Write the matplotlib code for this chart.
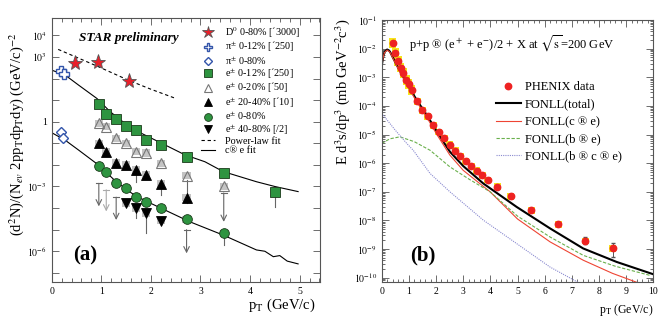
import numpy as np
import matplotlib
matplotlib.use("Agg")
import matplotlib.pyplot as plt
from matplotlib.patches import Rectangle
from matplotlib.lines import Line2D

plt.rcParams['font.family'] = ['Liberation Serif', 'DejaVu Serif']
plt.rcParams['mathtext.fontset'] = 'stix'

# ---------------- Panel (a) data ----------------
d0_pt = [0.47, 0.93, 1.56]
d0_y = [500, 560, 76]
plaw_pt = [0.13, 0.94, 1.54, 2.0, 2.5]
plaw_y = [2240, 355, 85, 32, 12]
pi12_pt = [0.19, 0.25]
pi12_y = [224, 155]
pi80_pt = [0.19, 0.23]
pi80_y = [0.35, 0.17]
e12_pt = [0.95, 1.1, 1.3, 1.5, 1.7, 1.9, 2.2, 2.72, 3.47, 4.51]
e12_y = [6.6, 2.2, 1.33, 0.65, 0.42, 0.14, 0.087, 0.024, 0.0041, 0.00054]
e20_pt = [0.95, 1.1, 1.3, 1.5, 1.7, 1.9, 2.2, 2.72, 3.47]
e20_y = [0.85, 0.59, 0.17, 0.10, 0.041, 0.035, 0.012, 0.0032, 0.0010]
e2040_pt = [0.95, 1.1, 1.3, 1.5, 1.7, 1.9, 2.2, 2.72]
e2040_y = [0.10, 0.041, 0.0126, 0.010, 0.0058, 0.0034, 0.0013, 0.00030]
e80_pt = [0.95, 1.1, 1.3, 1.5, 1.7, 1.9, 2.2, 2.72, 3.47]
e80_y = [0.0091, 0.0049, 0.0015, 0.00083, 0.00034, 0.0002, 9.8e-5, 3.0e-5, 6.8e-6]
e4080_pt = [1.5, 1.7, 1.9, 2.2]
e4080_y = [1.66e-4, 9.8e-5, 5.8e-5, 2.6e-5]
fitA_pt = [0.0, 0.27, 0.54, 0.91, 1.18, 1.6, 2.22, 2.69, 3.09, 3.46, 4.13, 4.5, 4.97]
fitA_y = [245, 145, 50, 12, 2.9, 0.5, 0.1, 0.029, 0.014, 0.0049, 0.00166, 0.001, 0.00058]
fitB_pt = [0.0, 0.27, 0.54, 0.94, 1.3, 1.7, 2.2, 2.79, 3.46, 4.13, 4.3, 4.47, 4.6, 4.75, 4.97]
fitB_y = [0.31, 0.14, 0.049, 0.01, 0.00166, 0.00035, 0.0001, 2.3e-5, 5.6e-6, 1.15e-6,
          1.0e-6, 5.6e-7, 6.3e-7, 3.5e-7, 2.6e-7]
# error bars (pt, low, high)
errs_a = [(4.51, 1.1e-4, 7.0e-4), (3.47, 2.0e-6, 9e-6), (2.72, 1.7e-4, 2.0e-3),
          (2.2, 4.0e-4, 1.3e-3), (1.7, 1.7e-3, 5.8e-3), (1.9, 6.8e-6, 8e-5),
          (1.7, 3.4e-5, 9.8e-5)]
# upper-limit arrows (pt, top, bottom, colour)
arrows_a = [(0.95, 1.4e-3, 1.2e-4, '#666666'), (1.1, 7e-4, 7e-5, '#aaaaaa'),
            (1.3, 3.2e-4, 2.8e-5, '#666666'), (2.72, 1.0e-5, 8e-7, '#666666'),
            (3.47, 5e-4, 2.3e-5, '#666666')]

# ---------------- Panel (b) data ----------------
ph_pt = [0.4, 0.5, 0.6, 0.7, 0.8, 0.9, 1.0, 1.1, 1.3, 1.5, 1.7, 1.9, 2.1, 2.3, 2.5, 2.7,
         2.9, 3.1, 3.3, 3.5, 3.7, 3.9, 4.25, 4.75, 5.5, 6.5, 7.5, 8.5]
ph_logy = [-1.81, -2.16, -2.42, -2.66, -2.85, -3.09, -3.24, -3.45, -3.84, -4.15, -4.37,
           -4.67, -4.91, -5.12, -5.35, -5.56, -5.75, -5.93, -6.10, -6.27, -6.42, -6.59,
           -6.83, -7.15, -7.64, -8.13, -8.72, -8.98]
tot_pt = [0.0, 0.05, 0.1, 0.2, 0.3, 0.55, 0.92, 1.29, 1.66, 2.03, 2.51, 3.0, 3.74, 4.97,
          6.2, 7.42, 8.65, 10.0]
tot_logy = [-2.6, -2.3, -2.12, -2.03, -2.1, -2.57, -3.21, -3.80, -4.32, -4.9, -5.6,
            -6.1, -6.71, -7.53, -8.28, -8.98, -9.45, -9.88]
c_pt = [0.0, 0.05, 0.1, 0.2, 0.3, 0.55, 0.92, 1.29, 1.66, 2.03, 2.51, 3.0, 3.99, 5.0,
        6.2, 7.42, 8.5, 9.5]
c_logy = [-2.62, -2.32, -2.14, -2.05, -2.12, -2.6, -3.25, -3.86, -4.40, -5.0, -5.72,
          -6.25, -7.0, -7.95, -8.75, -9.39, -9.85, -10.2]
b_pt = [0.0, 0.3, 0.67, 1.2, 1.78, 2.51, 3.2, 3.99, 5.0, 6.2, 7.42, 8.6, 9.88]
b_logy = [-5.31, -5.15, -5.08, -5.25, -5.55, -6.13, -6.55, -7.0, -7.85, -8.58, -9.22,
          -9.6, -9.92]
bc_pt = [0.0, 0.5, 0.92, 1.16, 1.78, 2.51, 3.74, 4.97, 6.2, 7.3]
bc_logy = [-4.26, -4.85, -5.31, -5.55, -6.36, -7.0, -7.99, -8.81, -9.63, -10.2]

fig = plt.figure(figsize=(6.64, 3.2), dpi=100)
axA = fig.add_axes([0.0779, 0.1197, 0.4039, 0.8231])
axB = fig.add_axes([0.5749, 0.1197, 0.4090, 0.8178])

frame_col = '#555555'
for ax in (axA, axB):
    for s in ax.spines.values():
        s.set_color(frame_col)
        s.set_linewidth(0.8)
    ax.tick_params(which='both', direction='in', top=True, right=True, colors=frame_col,
                   labelcolor='black', labelsize=7, width=0.6)

# ---------- Panel (a) ----------
ax = axA
ax.set_yscale('log')
ax.set_xlim(0, 5.41)
ax.set_ylim(10**-7.41, 10**4.79)
grey = '#c4c4c4'
def box(x, y, hw=0.085, hd=0.17):
    ax.add_patch(Rectangle((x - hw, y * 10**-hd), 2 * hw, y * (10**hd - 10**-hd),
                           facecolor=grey, edgecolor='none', zorder=1))
for xs, ys in [(e20_pt, e20_y), (e2040_pt, e2040_y), (e80_pt, e80_y), (e4080_pt, e4080_y)]:
    for x, y in zip(xs, ys):
        box(x, y)
for x, y in zip(e12_pt[1:3], e12_y[1:3]):
    box(x, y)
for x, lo, hi in errs_a:
    ax.plot([x, x], [lo, hi], color='#666666', lw=0.8, zorder=2)
for x, top, bot, col in arrows_a:
    ax.annotate('', xy=(x, bot), xytext=(x, top),
                arrowprops=dict(arrowstyle='->', color=col, lw=0.8, shrinkA=0, shrinkB=0),
                zorder=2)
    ax.plot([x - 0.06, x + 0.06], [top, top], color=col, lw=0.8, zorder=2)

ax.plot(plaw_pt, plaw_y, ls=(0, (3, 2.5)), color='black', lw=0.8, zorder=2)
ax.plot(fitA_pt, fitA_y, color='black', lw=0.8, zorder=2)
ax.plot(fitB_pt, fitB_y, color='black', lw=0.8, zorder=2)

green = '#2e9440'
h = []
h.append(ax.plot(d0_pt, d0_y, ls='none', marker='*', ms=11, mfc='#e8202a', mec='#555555', mew=0.6, zorder=4)[0])
h.append(ax.plot(pi12_pt, pi12_y, ls='none', marker='P', ms=7.5, mfc='white', mec='#3355aa', mew=1.0, zorder=4)[0])
h.append(ax.plot(pi80_pt, pi80_y, ls='none', marker='D', ms=5.5, mfc='white', mec='#3355aa', mew=1.0, zorder=4)[0])
h.append(ax.plot(e12_pt, e12_y, ls='none', marker='s', ms=6.5, mfc=green, mec='#1a3a1a', mew=0.6, zorder=4)[0])
h.append(ax.plot(e20_pt, e20_y, ls='none', marker='^', ms=7, mfc='none', mec='#777777', mew=0.8, zorder=4)[0])
h.append(ax.plot(e2040_pt, e2040_y, ls='none', marker='^', ms=7, mfc='black', mec='black', mew=0.6, zorder=4)[0])
h.append(ax.plot(e80_pt, e80_y, ls='none', marker='o', ms=7, mfc=green, mec='#1a3a1a', mew=0.6, zorder=4)[0])
h.append(ax.plot(e4080_pt, e4080_y, ls='none', marker='v', ms=7, mfc='black', mec='black', mew=0.6, zorder=4)[0])
h.append(Line2D([], [], ls=(0, (3, 2.5)), color='black', lw=0.8))
h.append(Line2D([], [], color='black', lw=0.8))
labels = ["D$^0$ 0-80% [´3000]", "π$^{\\pm}$ 0-12% [´250]", "π$^{\\pm}$ 0-80%",
          "e$^{\\pm}$ 0-12% [´250]", "e$^{\\pm}$ 0-20% [´50]", "e$^{\\pm}$ 20-40% [´10]",
          "e$^{\\pm}$ 0-80%", "e$^{\\pm}$ 40-80% [/2]", "Power-law fit", "c® e fit"]
leg = ax.legend(h, labels, loc='upper left', bbox_to_anchor=(0.556, 0.975), frameon=False,
                fontsize=7.3, labelspacing=0.02, handlelength=1.4, handletextpad=1.0,
                borderaxespad=0, markerscale=0.8, borderpad=0)
leg.legend_handles[4].set_markerfacecolor('white')

ax.text(0.288, 0.927, 'STAR preliminary', transform=ax.transAxes, ha='center', va='center',
        fontsize=9.5, fontweight='bold', fontstyle='italic')
ax.text(0.124, 0.101, '(a)', transform=ax.transAxes, ha='center', va='center',
        fontsize=15, fontweight='bold')

ax.set_yticks([10.0**k for k in range(-7, 5)])
ax.set_yticklabels(['' if k not in (4, 3, 0, -3, -6) else ('1' if k == 0 else '$10^{%d}$' % k)
                    for k in range(-7, 5)])
ax.yaxis.set_minor_locator(matplotlib.ticker.NullLocator())
ax.set_xticks([0, 1, 2, 3, 4, 5])
ax.set_xticks(np.arange(0, 5.41, 0.2), minor=True)
ax.tick_params(which='major', length=5)
ax.tick_params(which='minor', length=3)
fig.text(315 / 664, 1 - 305 / 320, 'p$_{\\rm T}$ (GeV/c)', ha='right', va='center', fontsize=10.5)
fig.text(17 / 664, 1 - 134 / 320,
         '(d$^2$N)/(N$_{ev}$ 2pp$_{\\rm T}$dp$_{\\rm T}$dy) (GeV/c)$^{-2}$',
         rotation=90, ha='center', va='center', fontsize=10.5)

# ---------- Panel (b) ----------
ax = axB
ax.set_yscale('log')
ax.set_xlim(0, 10)
ax.set_ylim(10**-10.14, 10**-1)
ph_y = [10**v for v in ph_logy]
for x, y in zip(ph_pt, ph_y):
    hd = 0.17 if x < 1.2 else 0.12
    ax.add_patch(Rectangle((x - 0.13, y * 10**-hd), 0.26, y * (10**hd - 10**-hd),
                           facecolor='#f5e51b', edgecolor='none', zorder=1))
ax.errorbar([7.5, 8.5], [10**-8.72, 10**-8.98],
            yerr=[[10**-8.72 - 10**-8.83, 10**-8.98 - 10**-9.29],
                  [10**-8.58 - 10**-8.72, 10**-8.78 - 10**-8.98]],
            fmt='none', ecolor='#555555', elinewidth=0.7, capsize=1.5, zorder=2)
hb = []
hb.append(ax.plot(ph_pt, ph_y, ls='none', marker='o', ms=4.6, mfc='#ee2222', mec='#ee2222', zorder=3)[0])
hb.append(ax.plot(tot_pt, [10**v for v in tot_logy], color='black', lw=1.5, zorder=2)[0])
hb.append(ax.plot(c_pt, [10**v for v in c_logy], color='#ee4433', lw=0.8, zorder=2)[0])
hb.append(ax.plot(b_pt, [10**v for v in b_logy], color='#6ab04c', lw=0.8, ls=(0, (3, 1.5)), zorder=2)[0])
hb.append(ax.plot(bc_pt, [10**v for v in bc_logy], color='#8a8ad0', lw=0.8, ls=(0, (1, 1)), zorder=2)[0])
ax.legend(hb, ['PHENIX data', 'FONLL(total)', 'FONLL(c ® e)', 'FONLL(b ® e)',
               'FONLL(b ® c ® e)'], loc='upper left', bbox_to_anchor=(0.42, 0.765),
          frameon=False, fontsize=9, labelspacing=0.42, handlelength=2.0, handletextpad=0.35,
          borderaxespad=0, borderpad=0)
ax.text(0.48, 0.91, 'p+p ® (e$^+$ + e$^{-}$)/2 + X at $\\sqrt{\\rm s}$=200 GeV',
        transform=ax.transAxes, ha='center', va='center', fontsize=9)
ax.text(0.15, 0.10, '(b)', transform=ax.transAxes, ha='center', va='center',
        fontsize=15, fontweight='bold')
ax.set_yticks([10.0**k for k in range(-10, 0)])
ax.set_yticklabels(['$10^{%d}$' % k for k in range(-10, 0)])
ax.yaxis.set_minor_locator(matplotlib.ticker.LogLocator(base=10, subs=np.arange(2, 10), numticks=20))
ax.yaxis.set_minor_formatter(matplotlib.ticker.NullFormatter())
ax.set_xticks(range(0, 11))
ax.set_xticks(np.arange(0, 10.01, 0.2), minor=True)
ax.tick_params(which='major', length=5)
ax.tick_params(which='minor', length=2.5)
fig.text(653 / 664, 1 - 310 / 320, 'p$_{\\rm T}$ (GeV/c)', ha='right', va='center', fontsize=8.5)
fig.text(343 / 664, 1 - 92 / 320, 'E d$^3$s/dp$^3$ (mb GeV$^{-2}$c$^3$)',
         rotation=90, ha='center', va='center', fontsize=10.5)

fig.savefig('out.png', dpi=100)
